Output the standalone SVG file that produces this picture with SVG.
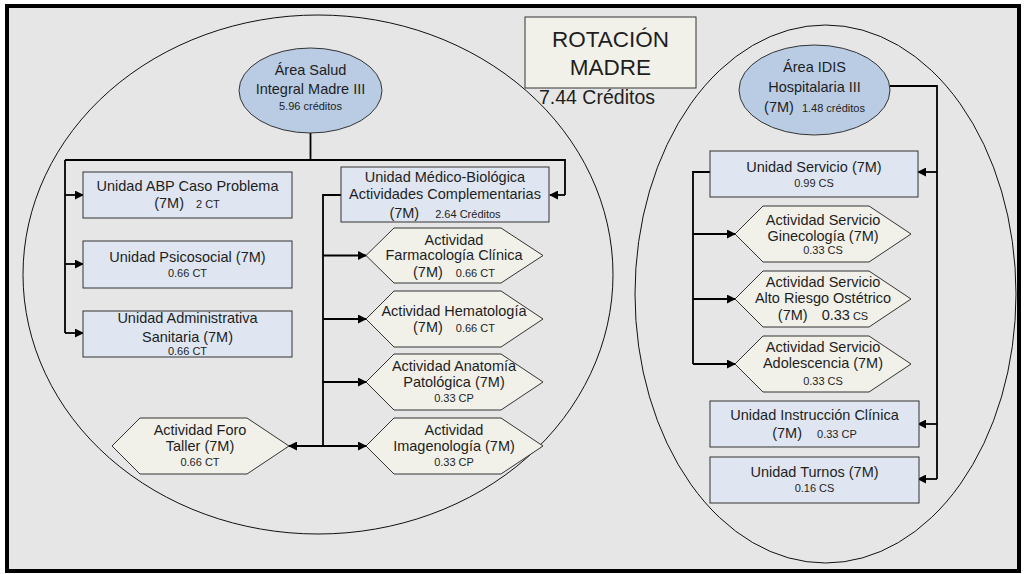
<svg xmlns="http://www.w3.org/2000/svg" width="1024" height="574" viewBox="0 0 1024 574">
<defs>
<style>
text{font-family:"Liberation Sans",Arial,sans-serif;fill:#1e1e1e;text-anchor:middle}
.l{font-size:14.5px}
.s{font-size:11px}
.box{fill:#dfe6f1;stroke:#333;stroke-width:1}
.hex{fill:#f1f1ea;stroke:#333;stroke-width:1}
.oval{fill:#b9cce4;stroke:#333;stroke-width:1}
.area{fill:none;stroke:#111;stroke-width:1}
.c{fill:none;stroke:#000;stroke-width:1.8}
.a{fill:none;stroke:#000;stroke-width:1.8;marker-end:url(#ah)}
</style>
<marker id="ah" viewBox="0 0 10 10" refX="9" refY="5" markerWidth="9" markerHeight="9" markerUnits="userSpaceOnUse" orient="auto">
<path d="M0,0 L10,5 L0,10 z" fill="#000"/>
</marker>
</defs>
<rect x="7" y="6" width="1012" height="565" fill="#e6e6e6" stroke="#000" stroke-width="4"/>
<ellipse class="area" cx="318" cy="274.5" rx="295" ry="259.5"/>
<ellipse class="area" cx="825.5" cy="294" rx="190.5" ry="269"/>

<g id="connectors">
<path class="c" d="M310.5,133 V160 M65,160 H565 V195"/>
<path class="a" d="M565,195 H550"/>
<path class="c" d="M65,160 V333"/>
<path class="a" d="M65,195 H83"/>
<path class="a" d="M65,264 H83"/>
<path class="a" d="M65,333 H83"/>
<path class="c" d="M341,195 H323 V446"/>
<path class="a" d="M323,255.5 H366"/>
<path class="a" d="M323,319 H366"/>
<path class="a" d="M323,382 H366"/>
<path class="a" d="M323,446 H366"/>
<path class="a" d="M323,446 H289"/>
<path class="c" d="M890,86 H937 V479"/>
<path class="a" d="M937,172 H918"/>
<path class="a" d="M937,424 H918"/>
<path class="a" d="M937,479 H918"/>
<path class="c" d="M710,172 H693 V364"/>
<path class="a" d="M693,234 H735"/>
<path class="a" d="M693,299 H735"/>
<path class="a" d="M693,364 H735"/>
</g>

<g id="title">
<rect x="525" y="17" width="171" height="71" fill="#f1f1ea" stroke="#333" stroke-width="1"/>
<text x="610.5" y="47" style="font-size:22.5px">ROTACIÓN</text>
<text x="610.5" y="75" style="font-size:22.5px">MADRE</text>
<text x="597" y="104" style="font-size:19.5px">7.44 Créditos</text>
</g>

<g id="area-salud">
<ellipse class="oval" cx="310.5" cy="90.5" rx="71.5" ry="42.5"/>
<text class="l" x="310.5" y="75">Área Salud</text>
<text class="l" x="310.5" y="94">Integral Madre III</text>
<text class="s" x="310.5" y="110">5.96 créditos</text>
</g>

<g id="unidad-abp">
<rect class="box" x="83" y="172" width="209" height="46"/>
<text class="l" x="187.5" y="191">Unidad ABP Caso Problema</text>
<text x="187" y="208"><tspan class="l">(7M)</tspan><tspan class="s" dx="12">2 CT</tspan></text>
</g>

<g id="unidad-psicosocial">
<rect class="box" x="83" y="241" width="209" height="47"/>
<text class="l" x="187.5" y="262">Unidad Psicosocial (7M)</text>
<text class="s" x="187.5" y="277">0.66 CT</text>
</g>

<g id="unidad-administrativa">
<rect class="box" x="83" y="311" width="209" height="46"/>
<text class="l" x="187.5" y="323">Unidad Administrativa</text>
<text class="l" x="187.5" y="342">Sanitaria (7M)</text>
<text class="s" x="187.5" y="355">0.66 CT</text>
</g>

<g id="unidad-medico-biologica">
<rect class="box" x="341" y="167" width="208" height="55"/>
<text class="l" x="445" y="182">Unidad Médico-Biológica</text>
<text class="l" x="445" y="199">Actividades Complementarias</text>
<text x="445" y="218"><tspan class="l">(7M)</tspan><tspan class="s" dx="16">2.64 Créditos</tspan></text>
</g>

<g id="act-farmacologia">
<polygon class="hex" points="366,255.5 394,228 501,228 543,255.5 501,283 394,283"/>
<text class="l" x="454" y="245">Actividad</text>
<text class="l" x="454" y="260">Farmacología Clínica</text>
<text x="454" y="277"><tspan class="l">(7M)</tspan><tspan class="s" dx="13">0.66 CT</tspan></text>
</g>

<g id="act-hematologia">
<polygon class="hex" points="366,319 394,291 501,291 543,319 501,347 394,347"/>
<text class="l" x="454" y="316">Actividad Hematología</text>
<text x="454" y="332"><tspan class="l">(7M)</tspan><tspan class="s" dx="13">0.66 CT</tspan></text>
</g>

<g id="act-anatomia">
<polygon class="hex" points="366,382 394,354 501,354 543,382 501,410 394,410"/>
<text class="l" x="454" y="371">Actividad Anatomía</text>
<text class="l" x="454" y="387">Patológica (7M)</text>
<text class="s" x="454" y="402">0.33 CP</text>
</g>

<g id="act-imagenologia">
<polygon class="hex" points="366,446 394,418 501,418 543,446 501,474 394,474"/>
<text class="l" x="454" y="435">Actividad</text>
<text class="l" x="454" y="451">Imagenología (7M)</text>
<text class="s" x="454" y="466">0.33 CP</text>
</g>

<g id="act-foro">
<polygon class="hex" points="112,446 140,418 247,418 289,446 247,474 140,474"/>
<text class="l" x="200" y="435">Actividad Foro</text>
<text class="l" x="200" y="451">Taller (7M)</text>
<text class="s" x="200" y="466">0.66 CT</text>
</g>

<g id="area-idis">
<ellipse class="oval" cx="814.5" cy="90" rx="75.5" ry="45"/>
<text class="l" x="814.5" y="72">Área IDIS</text>
<text class="l" x="814.5" y="92">Hospitalaria III</text>
<text x="814.5" y="112"><tspan class="l">(7M)</tspan><tspan class="s" dx="8">1.48 créditos</tspan></text>
</g>

<g id="unidad-servicio">
<rect class="box" x="710" y="151" width="208" height="46"/>
<text class="l" x="814" y="172">Unidad Servicio (7M)</text>
<text class="s" x="814" y="187">0.99 CS</text>
</g>

<g id="act-ginecologia">
<polygon class="hex" points="735,234 763,206 869,206 911,234 869,262 763,262"/>
<text class="l" x="823" y="225">Actividad Servicio</text>
<text class="l" x="823" y="241">Ginecología (7M)</text>
<text class="s" x="823" y="254">0.33 CS</text>
</g>

<g id="act-alto-riesgo">
<polygon class="hex" points="735,299 763,271 869,271 911,299 869,327 763,327"/>
<text class="l" x="823" y="287">Actividad Servicio</text>
<text class="l" x="823" y="303">Alto Riesgo Ostétrico</text>
<text x="823" y="320"><tspan class="l">(7M)</tspan><tspan class="l" dx="14">0.33</tspan><tspan class="s" dx="3">CS</tspan></text>
</g>

<g id="act-adolescencia">
<polygon class="hex" points="735,364 763,336 869,336 911,364 869,392 763,392"/>
<text class="l" x="823" y="352">Actividad Servicio</text>
<text class="l" x="823" y="368">Adolescencia (7M)</text>
<text class="s" x="823" y="385">0.33 CS</text>
</g>

<g id="unidad-instruccion">
<rect class="box" x="710" y="401" width="209" height="46"/>
<text class="l" x="814.5" y="420">Unidad Instrucción Clínica</text>
<text x="814.5" y="438"><tspan class="l">(7M)</tspan><tspan class="s" dx="15">0.33 CP</tspan></text>
</g>

<g id="unidad-turnos">
<rect class="box" x="710" y="457" width="209" height="46"/>
<text class="l" x="814.5" y="477">Unidad Turnos (7M)</text>
<text class="s" x="814.5" y="492">0.16 CS</text>
</g>
</svg>
